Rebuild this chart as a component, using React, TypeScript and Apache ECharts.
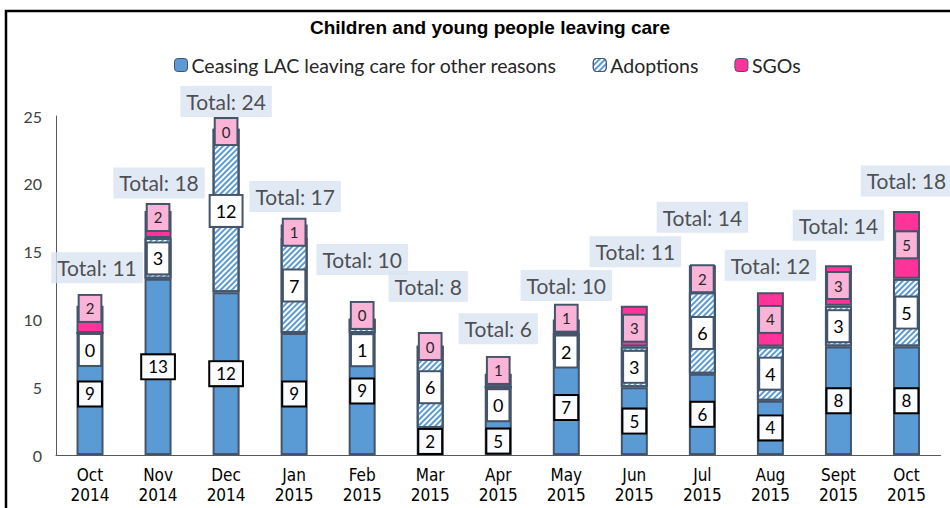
import React, { useEffect, useRef } from 'react';
import * as echarts from 'echarts';

const months = ['Oct\n2014', 'Nov\n2014', 'Dec\n2014', 'Jan\n2015', 'Feb\n2015', 'Mar\n2015', 'Apr\n2015', 'May\n2015', 'Jun\n2015', 'Jul\n2015', 'Aug\n2015', 'Sept\n2015', 'Oct\n2015'];
const ceasingLAC = [9, 13, 12, 9, 9, 2, 5, 7, 5, 6, 4, 8, 8];
const adoptions = [0, 3, 12, 7, 1, 6, 0, 2, 3, 6, 4, 3, 5];
const sgos = [2, 2, 0, 1, 0, 0, 1, 1, 3, 2, 4, 3, 5];
const totals = [11, 18, 24, 17, 10, 8, 6, 10, 11, 14, 12, 14, 18];
const seriesNames = ['Ceasing LAC leaving care for other reasons', 'Adoptions', 'SGOs'];
const yMin = 0;
const yMax = 25;
const yInterval = 5;

// manual label nudges (px), as the labels were hand-placed in the original
const ceasingNudge = [0, 0, 0, 0, -3, 0, 20, 0, 0, 0, 0, 0, 0];
const adoptionNudge = [17, 0, 0, 0, 24, 0, 18, 5, 0, 0, 0, 0, 0];
const sgoNudge = [-11, -7, 2, 1, -4, 0, -10, -8, 2, 0, 0, 0, 0];
const totalNudgeY = [-38, -28, -28, -28, -60, -60, -45, -34, -54, -48, -27, -40, -30];
const totalNudgeX = [7, 1, 0, 1, 0, -2, 0, 0, 1, 0, 0, 0, 0];

const BLUE = '#5B9BD5';
const PINK = '#FF3399';
const OUTLINE = '#44546A';
const CAL = 'Lato, "Open Sans", sans-serif';

export default function App() {
  const ref = useRef<HTMLDivElement>(null);
  useEffect(() => {
    if (!ref.current) return;
    const chart = echarts.init(ref.current, null, { renderer: 'svg' });
    const mk = (vals: number[], nudge: number[]) =>
      vals.map((v, i) => ({ value: v, label: { offset: [0, nudge[i]] } }));
    chart.setOption({
      animation: false,
      backgroundColor: '#FFFFFF',
      title: {
        text: 'Children and young people leaving care',
        left: 490,
        textAlign: 'center',
        top: 18,
        padding: 0,
        textStyle: { fontFamily: '"Liberation Sans", Arial, sans-serif', fontWeight: 'bold', fontSize: 19, color: '#000' },
      },
      legend: {
        data: seriesNames,
        left: 174,
        top: 55,
        padding: 0,
        itemWidth: 13,
        itemHeight: 13,
        itemGap: 36,
        textStyle: { fontFamily: CAL, fontSize: 19.5, color: '#262626', padding: [0, 0, 0, -1] },
        itemStyle: { borderWidth: 1 },
      },
      graphic: [
        {
          type: 'rect',
          shape: { x: 6, y: 11, width: 1200, height: 800 },
          style: { fill: 'none', stroke: '#000', lineWidth: 2.5 },
          silent: true,
        },
      ],
      grid: { left: 56, right: 9.5, top: 116, bottom: 53 },
      xAxis: {
        type: 'category',
        data: months,
        axisTick: { show: false },
        axisLine: { lineStyle: { color: '#595959', width: 1 } },
        axisLabel: {
          fontFamily: '"Liberation Sans Narrow", "Arial Narrow", "DejaVu Sans Condensed", sans-serif',
          fontSize: 17,
          lineHeight: 20,
          color: '#000',
          margin: 10,
        },
      },
      yAxis: {
        type: 'value',
        min: yMin,
        max: yMax,
        interval: yInterval,
        splitLine: { show: false },
        axisTick: { show: false },
        axisLine: { show: true, lineStyle: { color: '#595959', width: 1 } },
        axisLabel: { fontFamily: CAL, fontSize: 16, color: '#404040', margin: 14 },
      },
      series: [
        {
          name: seriesNames[0],
          type: 'bar',
          stack: 'all',
          barWidth: 27,
          data: mk(ceasingLAC, ceasingNudge),
          itemStyle: { color: BLUE, borderColor: OUTLINE, borderWidth: 2 },
          label: {
            show: true,
            position: 'inside',
            fontFamily: CAL,
            fontSize: 17,
            color: '#000',
            backgroundColor: '#FAFBFE',
            borderColor: '#000',
            borderWidth: 2,
            padding: [3, 6],
          },
        },
        {
          name: seriesNames[1],
          type: 'bar',
          stack: 'all',
          barWidth: 27,
          data: mk(adoptions, adoptionNudge),
          itemStyle: {
            color: '#FFFFFF',
            borderColor: OUTLINE,
            borderWidth: 2,
            decal: {
              symbol: 'rect',
              symbolSize: 1,
              color: BLUE,
              dashArrayX: [1, 0],
              dashArrayY: [2, 2],
              rotation: -Math.PI / 4,
            },
          },
          label: {
            show: true,
            position: 'inside',
            fontFamily: CAL,
            fontSize: 18,
            color: '#000',
            backgroundColor: '#FFFFFF',
            borderColor: OUTLINE,
            borderWidth: 2,
            padding: [6, 5],
          },
        },
        {
          name: seriesNames[2],
          type: 'bar',
          stack: 'all',
          barWidth: 27,
          data: mk(sgos, sgoNudge),
          itemStyle: { color: PINK, borderColor: OUTLINE, borderWidth: 2 },
          label: {
            show: true,
            position: 'inside',
            fontFamily: CAL,
            fontSize: 15,
            color: '#262626',
            backgroundColor: '#FBB4D8',
            borderColor: OUTLINE,
            borderWidth: 2,
            padding: [5, 6],
          },
        },
        {
          name: 'Total',
          type: 'scatter',
          symbolSize: 1,
          itemStyle: { color: 'rgba(0,0,0,0)' },
          z: 10,
          data: totals.map((t, i) => ({ value: [i, t], label: { offset: [totalNudgeX[i], totalNudgeY[i]] } })),
          label: {
            show: true,
            position: 'inside',
            formatter: (p: any) => 'Total: ' + p.value[1],
            fontFamily: CAL,
            fontSize: 21,
            color: '#262626',
            backgroundColor: '#DAE3F3',
            padding: [5, 6],
          },
        },
      ],
    });
    return () => chart.dispose();
  }, []);
  return <div ref={ref} style={{ position: 'absolute', left: 0, top: 0, width: 950, height: 508 }} />;
}
